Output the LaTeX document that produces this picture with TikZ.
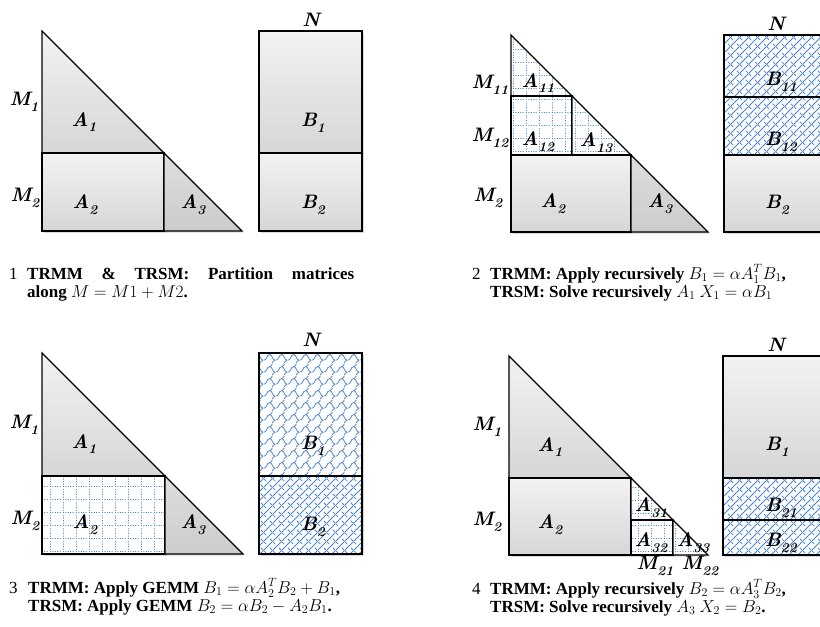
\documentclass[tikz,border=0pt]{standalone}
\usepackage{fontspec}
\newfontfamily\capfont{Liberation Serif}
\usetikzlibrary{shadows,patterns.meta}

\definecolor{patblue}{RGB}{72,132,204}
\newcommand{\labfont}{\fontsize{19.5}{19.5}\selectfont\bfseries\itshape}
\newcommand{\ms}[2]{#1\raisebox{-0.3em}{\fontsize{13.5}{13.5}\selectfont #2}}

% fill patterns
\tikzdeclarepattern{name=dotgrid, type=uncolored,
  bottom left={(0pt,0pt)}, top right={(12.5pt,12.5pt)}, tile size={(12.5pt,12.5pt)},
  code={
    \draw[line width=1pt, dash pattern=on 1pt off 1.5pt] (0pt,0.5pt) -- (12.5pt,0.5pt);
    \draw[line width=1pt, dash pattern=on 1pt off 1.5pt] (0.5pt,0pt) -- (0.5pt,12.5pt);
  }}
\tikzdeclarepattern{name=bricks, type=uncolored,
  bottom left={(0pt,0pt)}, top right={(8.5pt,8.5pt)}, tile size={(8.5pt,8.5pt)},
  code={
    \draw[line width=0.9pt] (-0.5pt,-0.5pt) -- (9pt,9pt);
    \draw[line width=0.9pt] (-0.5pt,9pt) -- (2.3pt,6.2pt);
    \draw[line width=0.9pt] (6.2pt,2.3pt) -- (9pt,-0.5pt);
  }}
\tikzdeclarepattern{name=waves, type=uncolored,
  bottom left={(0pt,0pt)}, top right={(12pt,12pt)}, tile size={(12pt,12pt)},
  code={
    \draw[line width=0.8pt] (0pt,3pt) .. controls (3pt,3pt) and (3pt,9pt) .. (6pt,9pt)
      .. controls (9pt,9pt) and (9pt,3pt) .. (12pt,3pt);
    \draw[line width=0.8pt] (6pt,9pt) .. controls (8pt,9pt) and (8pt,11pt) .. (9pt,12pt);
    \draw[line width=0.8pt] (9pt,0pt) .. controls (10pt,1pt) and (10pt,3pt) .. (12pt,3pt);
  }}

\begin{document}
\begin{tikzpicture}[
    x=1pt, y=-1pt,
    boxshadow/.style={drop shadow={shadow xshift=1.5pt, shadow yshift=-1.5pt, opacity=0.3}},
    shadebox/.style={draw, line width=1.2pt, boxshadow, top color=gray!10, bottom color=gray!32},
    darkbox/.style={draw, line width=1.2pt, boxshadow, top color=gray!26, bottom color=gray!40},
    dotbox/.style={draw, line width=1.2pt, boxshadow, preaction={fill=white},
        pattern=dotgrid, pattern color=patblue},
    brickbox/.style={draw, line width=1.2pt, boxshadow, preaction={fill=white},
        pattern=bricks, pattern color=patblue},
    wavebox/.style={draw, line width=1.2pt, boxshadow, preaction={fill=white},
        pattern=waves, pattern color=patblue},
    lab/.style={font=\labfont, inner sep=0pt},
    captext/.style={font=\capfont\fontsize{17}{18}\selectfont\bfseries, inner sep=0pt, anchor=base west},
    capnum/.style={font=\capfont\fontsize{17}{18}\selectfont, inner sep=0pt, anchor=base west}
]
\useasboundingbox (0,0) rectangle (820,627);
\clip (0,0) rectangle (820,627);

%------------------------------------------------
% Panel 1
%------------------------------------------------
\draw[shadebox] (42,31) -- (42,153) -- (164,153) -- cycle;
\draw[shadebox] (42,153) rectangle (164,231);
\draw[darkbox]  (164,153) -- (164,231) -- (242,231) -- cycle;
\draw[shadebox] (259,31) rectangle (362,153);
\draw[shadebox] (259,153) rectangle (362,231);

\node[lab] (p1m1) at (24,102)  {\ms{M}{1}};
\node[lab] (p1m2) at (25,198)  {\ms{M}{2}};
\node[lab] (p1a1) at (84,122)  {\ms{A}{1}};
\node[lab] (p1a2) at (85,205)  {\ms{A}{2}};
\node[lab] (p1a3) at (193,205) {\ms{A}{3}};
\node[lab] (p1b1) at (313,123) {\ms{B}{1}};
\node[lab] (p1b2) at (313,205) {\ms{B}{2}};
\node[lab] (p1n)  at (311,20)  {N};

%------------------------------------------------
% Panel 2
%------------------------------------------------
\draw[dotbox]   (511,35) -- (511,96) -- (572,96) -- cycle;
\draw[dotbox]   (511,96) rectangle (572,155);
\draw[dotbox]   (572,96) -- (572,155) -- (631,155) -- cycle;
\draw[shadebox] (511,155) rectangle (631,232);
\draw[darkbox]  (631,155) -- (631,232) -- (708,232) -- cycle;
\draw[brickbox] (724,35) rectangle (827,97);
\draw[brickbox] (724,97) rectangle (827,155);
\draw[shadebox] (724,155) rectangle (827,232);

\node[lab] (p2m11) at (490,85)  {\ms{M}{11}};
\node[lab] (p2m12) at (490,138) {\ms{M}{12}};
\node[lab] (p2m2)  at (488,198) {\ms{M}{2}};
\node[lab] (p2a11) at (538,83)  {\ms{A}{11}};
\node[lab] (p2a12) at (538,142) {\ms{A}{12}};
\node[lab] (p2a13) at (596,143) {\ms{A}{13}};
\node[lab] (p2a2)  at (553,204) {\ms{A}{2}};
\node[lab] (p2a3)  at (660,204) {\ms{A}{3}};
\node[lab] (p2b11) at (781,82)  {\ms{B}{11}};
\node[lab] (p2b12) at (781,142) {\ms{B}{12}};
\node[lab] (p2b2)  at (777,205) {\ms{B}{2}};
\node[lab] (p2n)   at (776,24)  {N};

%------------------------------------------------
% Panel 3
%------------------------------------------------
\draw[shadebox] (42,353) -- (42,476) -- (165,476) -- cycle;
\draw[dotbox]   (42,476) rectangle (165,554);
\draw[darkbox]  (165,476) -- (165,554) -- (243,554) -- cycle;
\draw[wavebox]  (259,353) rectangle (362,476);
\draw[brickbox] (259,476) rectangle (362,554);

\node[lab] (p3m1) at (24,425)  {\ms{M}{1}};
\node[lab] (p3m2) at (25,521)  {\ms{M}{2}};
\node[lab] (p3a1) at (84,444)  {\ms{A}{1}};
\node[lab] (p3a2) at (85,525)  {\ms{A}{2}};
\node[lab] (p3a3) at (193,525) {\ms{A}{3}};
\node[lab] (p3b1) at (313,446) {\ms{B}{1}};
\node[lab] (p3b2) at (313,527) {\ms{B}{2}};
\node[lab] (p3n)  at (311,340) {N};

%------------------------------------------------
% Panel 4
%------------------------------------------------
\draw[shadebox] (509,356) -- (509,478) -- (631,478) -- cycle;
\draw[shadebox] (509,478) rectangle (631,555);
\draw[dotbox]   (631,478) -- (631,520) -- (673,520) -- cycle;
\draw[dotbox]   (631,520) rectangle (673,555);
\draw[dotbox]   (673,520) -- (673,555) -- (708,555) -- cycle;
\draw[shadebox] (723,356) rectangle (826,478);
\draw[brickbox] (723,478) rectangle (826,520);
\draw[brickbox] (723,520) rectangle (826,555);

\node[lab] (p4m1)  at (487,427) {\ms{M}{1}};
\node[lab] (p4m2)  at (487,522) {\ms{M}{2}};
\node[lab] (p4a1)  at (550,447) {\ms{A}{1}};
\node[lab] (p4a2)  at (550,525) {\ms{A}{2}};
\node[lab] (p4a31) at (651,508) {\ms{A}{31}};
\node[lab] (p4a32) at (651,543) {\ms{A}{32}};
\node[lab] (p4a33) at (693,543) {\ms{A}{33}};
\node[lab] (p4m21) at (655,566) {\ms{M}{21}};
\node[lab] (p4m22) at (700,566) {\ms{M}{22}};
\node[lab] (p4b1)  at (777,447) {\ms{B}{1}};
\node[lab] (p4b21) at (781,508) {\ms{B}{21}};
\node[lab] (p4b22) at (781,543) {\ms{B}{22}};
\node[lab] (p4n)   at (776,345) {N};

%------------------------------------------------
% Captions
%------------------------------------------------
\node[capnum]  (n1)  at (9,279)   {1};
\node[captext] (c1a) at (27,279)  {\makebox[327pt][s]{TRMM \& TRSM: Partition matrices}};
\node[captext] (c1b) at (27,297)  {along $M=M1+M2$.};

\node[capnum]  (n2)  at (472,279) {2};
\node[captext] (c2a) at (490,279) {TRMM: Apply recursively $B_1=\alpha A_1^T B_1$,};
\node[captext] (c2b) at (490,297) {TRSM: Solve recursively $A_1\ X_1=\alpha B_1$};

\node[capnum]  (n3)  at (9,593)   {3};
\node[captext] (c3a) at (28,593)  {TRMM: Apply GEMM $B_1=\alpha A_2^T B_2+B_1$,};
\node[captext] (c3b) at (28,611)  {TRSM: Apply GEMM $B_2=\alpha B_2-A_2B_1$.};

\node[capnum]  (n4)  at (472,594) {4};
\node[captext] (c4a) at (490,594) {TRMM: Apply recursively $B_2=\alpha A_3^T B_2$,};
\node[captext] (c4b) at (490,612) {TRSM: Solve recursively $A_3\ X_2=B_2$.};

\end{tikzpicture}
\end{document}
